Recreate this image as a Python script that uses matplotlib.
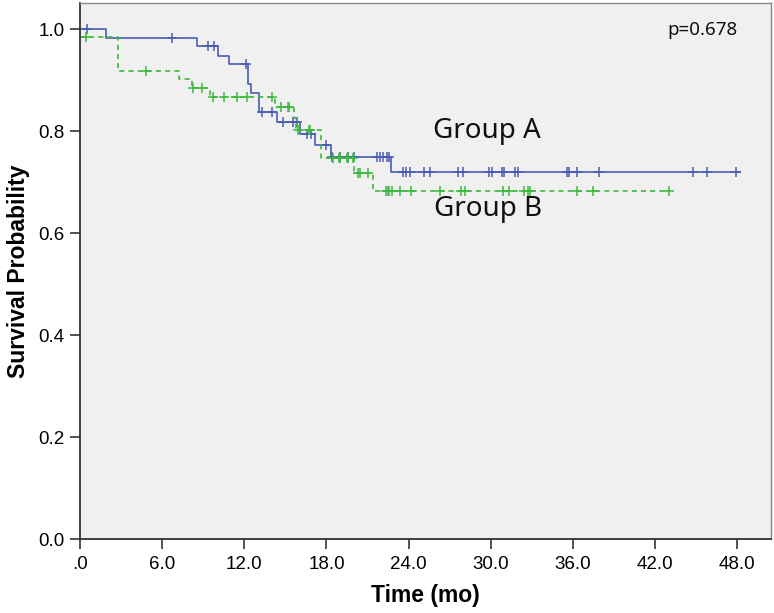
import numpy as np
import matplotlib
matplotlib.use("Agg")
import matplotlib.pyplot as plt

plt.rcParams['font.family'] = ['Liberation Sans', 'DejaVu Sans']

# Kaplan-Meier step data
a_times = [0.0, 1.88, 8.52, 10.06, 10.9, 12.3, 12.5, 13.1, 14.4, 16.07, 17.2, 18.3, 22.7]
a_surv = [1.0, 0.983, 0.967, 0.948, 0.931, 0.893, 0.874, 0.838, 0.818, 0.795, 0.773, 0.750, 0.719]
a_end = 48.2
a_cens = [0.53, 6.74, 9.37, 9.79, 12.1, 13.3, 14.0, 14.85, 15.58, 15.83, 16.56, 16.9,
          17.95, 18.4, 19.0, 19.6, 20.0, 21.7, 21.9, 22.1, 22.4, 22.6, 23.6, 23.8,
          24.1, 25.1, 25.6, 27.6, 27.95, 29.9, 30.1, 30.8, 31.0, 31.8, 32.0, 35.55,
          35.7, 36.3, 37.9, 44.75, 45.8, 47.9]

b_times = [0.0, 2.8, 7.23, 8.16, 9.5, 14.25, 15.6, 15.8, 17.6, 20.04, 21.4]
b_surv = [0.985, 0.918, 0.901, 0.884, 0.867, 0.848, 0.825, 0.802, 0.748, 0.717, 0.682]
b_end = 43.0
b_cens = [0.44, 4.8, 8.23, 8.89, 9.7, 10.5, 11.5, 12.2, 14.0, 14.7, 15.2, 15.3, 15.9,
          16.7, 16.8, 18.5, 18.9, 19.0, 19.5, 19.6, 19.95, 20.3, 20.45, 21.06, 22.35,
          22.5, 22.6, 22.8, 23.4, 24.2, 26.3, 27.8, 28.1, 30.9, 31.3, 32.4, 32.7, 32.9,
          36.3, 37.5, 43.0]

xticks = [0, 6, 12, 18, 24, 30, 36, 42, 48]
xlabels = ['.0', '6.0', '12.0', '18.0', '24.0', '30.0', '36.0', '42.0', '48.0']
yticks = [0.0, 0.2, 0.4, 0.6, 0.8, 1.0]

blue = '#4a5db3'
green = '#3cb83c'


def step_xy(times, surv, end):
    x = list(times) + [end]
    y = list(surv) + [surv[-1]]
    return x, y


def cens_y(times, surv, cens):
    idx = np.searchsorted(times, cens, side='right') - 1
    return np.array(surv)[idx]


fig = plt.figure(figsize=(7.74, 6.13), dpi=100)
ax = fig.add_axes([80 / 774, 74 / 613, 691 / 774, 536 / 613])
ax.set_facecolor('#f0f0f0')

x, y = step_xy(a_times, a_surv, a_end)
ax.plot(x, y, drawstyle='steps-post', color=blue, lw=1.2)
ax.plot(a_cens, cens_y(a_times, a_surv, a_cens), ls='none', marker='+',
        ms=7, mew=1.1, color=blue)

x, y = step_xy(b_times, b_surv, b_end)
ax.plot(x, y, drawstyle='steps-post', color=green, lw=1.2, ls=(0, (3, 2.5)))
ax.plot(b_cens, cens_y(b_times, b_surv, b_cens), ls='none', marker='+',
        ms=7, mew=1.1, color=green)

ax.set_xlim(0, 50.47)
ax.set_ylim(0, 1.051)
ax.set_xticks(xticks)
ax.set_xticklabels(xlabels)
ax.set_yticks(yticks)
ax.set_yticklabels([f'{v:.1f}' for v in yticks])
ax.tick_params(axis='both', direction='out', length=7, width=1.2, color='#333333',
               labelsize=13.5, pad=5)
ax.tick_params(axis='y', pad=4)

for side in ['left', 'bottom']:
    ax.spines[side].set_color('#333333')
    ax.spines[side].set_linewidth(1.3)
for side in ['top', 'right']:
    ax.spines[side].set_color('#888888')
    ax.spines[side].set_linewidth(1.0)

ax.set_xlabel('Time (mo)', fontsize=16.5, fontweight='bold', labelpad=8)
ax.set_ylabel('Survival Probability', fontsize=16.5, fontweight='bold', labelpad=6)

ax.text(29.7, 0.80, 'Group A', fontsize=20, ha='center', va='center',
        family=['Noto Sans', 'DejaVu Sans'], color='#111111')
ax.text(29.8, 0.647, 'Group B', fontsize=20, ha='center', va='center',
        family=['Noto Sans', 'DejaVu Sans'], color='#111111')
ax.text(48.0, 0.999, 'p=0.678', fontsize=13.5, ha='right', va='center',
        family=['Noto Sans', 'DejaVu Sans'], color='#111111')

fig.savefig('out.png', dpi=100)
